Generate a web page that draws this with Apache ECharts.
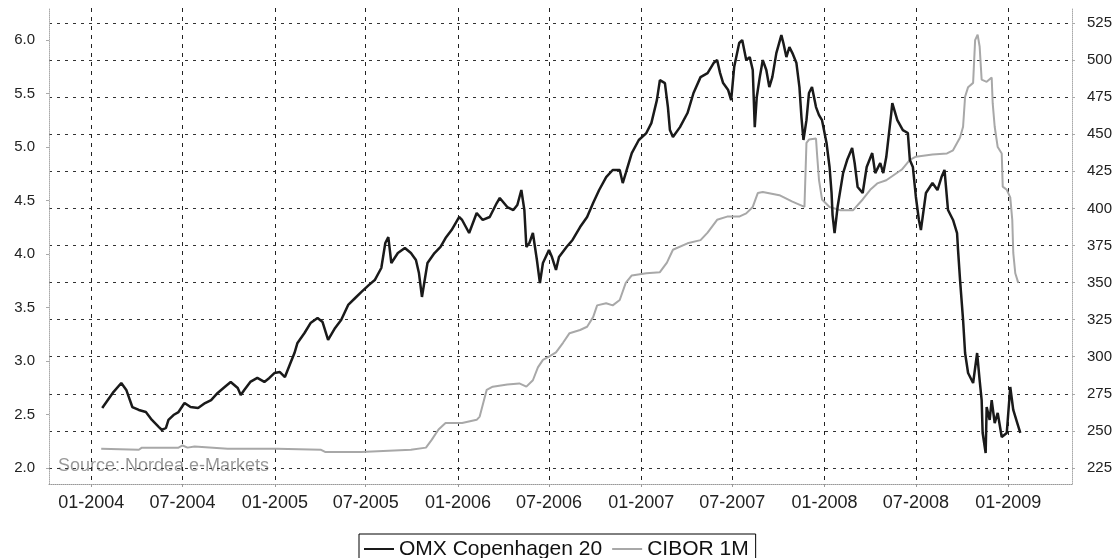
<html>
<head>
<meta http-equiv="Content-Type" content="text/html; charset=utf-8" />
<script src="https://cdn.jsdelivr.net/npm/echarts@6/dist/echarts.min.js"></script>
<style>
  html, body { margin: 0; padding: 0; background: #fff; }
</style>
</head>
<body>
<div id="chart" style="width:1120px;height:558px;"></div>
<script type="text/javascript">
// x axis tick labels (month-year)
var tickLabels = ['01-2004', '07-2004', '01-2005', '07-2005', '01-2006', '07-2006',
  '01-2007', '07-2007', '01-2008', '07-2008', '01-2009'];

// OMX Copenhagen 20 (right axis)
var omxDates = ['2004-01-23','2004-02-13','2004-03-01','2004-03-11','2004-03-23','2004-04-05','2004-04-19','2004-05-01','2004-05-15','2004-05-21',
  '2004-05-29','2004-06-03','2004-06-13','2004-06-23','2004-07-05','2004-07-17','2004-08-01','2004-08-15','2004-08-27','2004-09-09',
  '2004-09-23','2004-10-05','2004-10-19','2004-10-25','2004-11-01','2004-11-13','2004-11-27','2004-12-11','2004-12-21','2004-12-31',
  '2005-01-11','2005-01-21','2005-02-01','2005-02-09','2005-02-15','2005-03-01','2005-03-13','2005-03-27','2005-04-06','2005-04-17',
  '2005-05-01','2005-05-13','2005-05-27','2005-06-10','2005-06-22','2005-07-07','2005-07-19','2005-08-01','2005-08-09','2005-08-15',
  '2005-08-21','2005-09-03','2005-09-17','2005-09-29','2005-10-09','2005-10-15','2005-10-21','2005-11-01','2005-11-15','2005-11-27',
  '2005-12-07','2005-12-19','2006-01-03','2006-01-09','2006-01-23','2006-02-07','2006-02-19','2006-03-05','2006-03-19','2006-03-25',
  '2006-04-09','2006-04-21','2006-04-29','2006-05-07','2006-05-13','2006-05-17','2006-05-23','2006-05-30','2006-06-07','2006-06-13',
  '2006-06-19','2006-07-01','2006-07-07','2006-07-15','2006-07-21','2006-08-05','2006-08-17','2006-09-01','2006-09-15','2006-09-27',
  '2006-10-09','2006-10-23','2006-11-05','2006-11-19','2006-11-25','2006-12-01','2006-12-13','2006-12-27','2007-01-11','2007-01-21',
  '2007-02-01','2007-02-07','2007-02-17','2007-02-23','2007-02-27','2007-03-05','2007-03-19','2007-04-03','2007-04-15','2007-04-29',
  '2007-05-13','2007-05-25','2007-06-01','2007-06-07','2007-06-13','2007-06-23','2007-06-29','2007-07-05','2007-07-15','2007-07-21',
  '2007-07-29','2007-08-05','2007-08-11','2007-08-15','2007-08-19','2007-08-25','2007-08-31','2007-09-07','2007-09-13','2007-09-19',
  '2007-09-27','2007-10-07','2007-10-11','2007-10-17','2007-10-23','2007-10-29','2007-11-06','2007-11-12','2007-11-16','2007-11-20',
  '2007-11-26','2007-12-01','2007-12-07','2007-12-15','2007-12-21','2007-12-27','2008-01-05','2008-01-11','2008-01-15','2008-01-17',
  '2008-01-21','2008-01-27','2008-02-07','2008-02-15','2008-02-25','2008-03-01','2008-03-07','2008-03-17','2008-03-25','2008-04-05',
  '2008-04-11','2008-04-21','2008-04-27','2008-05-03','2008-05-13','2008-05-15','2008-05-25','2008-06-05','2008-06-15','2008-06-19',
  '2008-06-25','2008-07-01','2008-07-07','2008-07-11','2008-07-21','2008-08-03','2008-08-13','2008-08-21','2008-08-27','2008-09-03',
  '2008-09-13','2008-09-21','2008-09-23','2008-09-27','2008-10-03','2008-10-07','2008-10-13','2008-10-23','2008-10-31','2008-11-05',
  '2008-11-09','2008-11-11','2008-11-17','2008-11-19','2008-11-25','2008-11-29','2008-12-05','2008-12-11','2008-12-19','2008-12-29',
  '2009-01-05','2009-01-11','2009-01-19','2009-01-25'];
var omxValues = [265.4,275.6,282.3,277.6,266.1,264.1,262.7,257.4,252.6,250.6,
  252.0,257.4,260.7,262.7,268.8,266.1,265.4,268.8,270.8,275.6,
  279.6,283.0,278.9,274.2,277.6,283.0,285.7,283.0,285.7,289.0,
  289.7,286.3,295.8,302.5,309.3,316.0,322.7,326.1,323.4,311.3,
  319.4,324.8,334.9,339.6,343.6,348.3,351.7,359.8,376.7,380.7,
  363.2,369.9,373.3,369.9,365.2,356.4,340.3,363.2,369.9,374.0,
  380.0,385.4,394.2,392.2,383.4,396.9,392.2,394.2,403.6,407.0,
  400.9,398.9,402.3,412.4,398.9,374.0,376.7,383.4,365.2,349.7,
  363.2,371.9,367.2,358.5,367.2,374.0,378.7,387.4,394.2,403.6,
  412.4,421.1,425.9,425.9,417.1,423.8,437.3,446.1,450.8,457.5,
  473.0,486.5,484.5,468.3,452.8,448.1,454.8,464.3,477.8,488.5,
  491.2,498.0,500.0,491.2,484.5,479.8,473.0,495.3,511.5,513.5,
  500.0,502.0,493.3,454.8,475.1,488.5,500.0,493.3,481.8,488.5,
  504.7,516.8,511.5,502.0,508.8,504.7,498.0,481.8,461.6,446.1,
  459.5,477.8,481.8,468.3,462.9,459.5,444.1,427.9,410.4,395.5,
  383.4,400.9,423.8,432.6,440.7,430.6,414.4,410.4,427.9,437.3,
  423.8,430.6,423.8,434.6,464.3,471.0,459.5,452.8,450.8,432.6,
  427.9,407.7,392.2,385.4,410.4,417.1,412.4,421.1,425.9,398.9,
  392.2,383.4,371.9,351.7,324.8,302.5,289.0,282.3,302.5,284.3,
  270.8,248.6,235.1,266.1,257.4,270.8,255.3,262.1,245.9,248.6,
  279.6,264.1,255.3,248.6];

// CIBOR 1M (left axis, %)
var ciborDates = ['2004-01-21','2004-04-05','2004-04-11','2004-06-23','2004-07-01','2004-07-11','2004-07-25','2004-09-29','2005-01-05','2005-04-03',
  '2005-04-11','2005-06-22','2005-09-29','2005-10-29','2005-11-09','2005-11-23','2005-12-07','2006-01-09','2006-02-07','2006-02-13',
  '2006-02-27','2006-03-11','2006-04-09','2006-05-03','2006-05-17','2006-05-30','2006-06-09','2006-06-19','2006-07-01','2006-07-15',
  '2006-07-29','2006-08-11','2006-09-01','2006-09-15','2006-09-27','2006-10-05','2006-10-23','2006-11-05','2006-11-19','2006-12-01',
  '2006-12-13','2007-01-11','2007-02-07','2007-02-21','2007-03-05','2007-04-03','2007-04-29','2007-05-13','2007-06-01','2007-06-21',
  '2007-07-15','2007-07-29','2007-08-11','2007-08-21','2007-08-31','2007-10-03','2007-10-29','2007-11-22','2007-11-26','2007-12-01',
  '2007-12-15','2007-12-17','2007-12-21','2007-12-27','2008-01-11','2008-02-01','2008-02-27','2008-03-17','2008-04-01','2008-04-15',
  '2008-05-03','2008-06-03','2008-06-19','2008-07-01','2008-08-03','2008-09-01','2008-09-13','2008-09-27','2008-10-03','2008-10-07',
  '2008-10-13','2008-10-23','2008-10-27','2008-11-01','2008-11-05','2008-11-09','2008-11-19','2008-11-29','2008-12-01','2008-12-05',
  '2008-12-11','2008-12-19','2008-12-21','2008-12-29','2009-01-05','2009-01-09','2009-01-11','2009-01-15','2009-01-21'];
var ciborValues = [2.18,2.17,2.19,2.19,2.21,2.19,2.20,2.18,2.18,2.17,
  2.15,2.15,2.17,2.19,2.26,2.36,2.42,2.42,2.45,2.48,
  2.73,2.76,2.78,2.79,2.76,2.82,2.94,3.01,3.04,3.08,
  3.17,3.26,3.29,3.32,3.41,3.52,3.54,3.52,3.57,3.73,
  3.80,3.82,3.83,3.92,4.04,4.10,4.13,4.20,4.32,4.35,
  4.35,4.38,4.44,4.57,4.58,4.55,4.49,4.44,5.04,5.07,
  5.08,4.94,4.69,4.51,4.44,4.41,4.41,4.51,4.60,4.66,
  4.69,4.79,4.88,4.91,4.93,4.94,4.97,5.09,5.19,5.47,
  5.56,5.60,6.00,6.05,5.94,5.63,5.61,5.65,5.41,5.19,
  5.00,4.94,4.63,4.60,4.53,4.32,4.01,3.82,3.73];

var leftTicks = [2, 2.5, 3, 3.5, 4, 4.5, 5, 5.5, 6];
var rightTicks = [225, 250, 275, 300, 325, 350, 375, 400, 425, 450, 475, 500, 525];

function toTime(s) {
  var p = s.split('-');
  return Date.UTC(+p[0], +p[1] - 1, +p[2]);
}
function zip(d, v) {
  return d.map(function (x, i) { return [toTime(x), v[i]]; });
}
// '07-2004' -> first day of that month
var tickValues = tickLabels.map(function (l) {
  var p = l.split('-');
  return Date.UTC(+p[1], +p[0] - 1, 1);
});

var chart = echarts.init(document.getElementById('chart'));
var font = 'Liberation Sans, Arial, sans-serif';

chart.setOption({
  animation: false,
  backgroundColor: '#fff',
  grid: { left: 49, right: 48, top: 8, bottom: 74 },
  legend: {
    left: 359, top: 534,
    padding: [4, 7, 8, 5],
    borderColor: '#000', borderWidth: 1,
    icon: 'rect',
    itemWidth: 30, itemHeight: 2, itemGap: 10,
    textStyle: { fontFamily: font, fontSize: 21, color: '#111', lineHeight: 22 },
    data: ['OMX Copenhagen 20', 'CIBOR 1M']
  },
  graphic: [{
    type: 'text', left: 58, top: 457,
    style: { text: 'Source: Nordea e-Markets', fontFamily: font, fontSize: 18, fill: '#999' }
  }],
  xAxis: {
    type: 'value',
    min: toTime('2003-10-09'), max: toTime('2009-05-08'),
    axisLine: { lineStyle: { color: '#999', type: 'dotted' } },
    axisTick: { customValues: tickValues, length: 3, lineStyle: { color: '#999' } },
    axisLabel: {
      customValues: tickValues, margin: 10,
      fontFamily: font, fontSize: 18, color: '#222',
      formatter: function (v) {
        var i = tickValues.indexOf(v);
        return i >= 0 ? tickLabels[i] : '';
      }
    },
    splitLine: { show: true, lineStyle: { color: '#222', type: [4, 5], width: 1 } }
  },
  yAxis: [{
    type: 'value', position: 'left',
    min: 1.85, max: 6.3,
    axisLine: { show: true, lineStyle: { color: '#aaa', type: 'dotted' } },
    axisTick: { show: true, length: 3, lineStyle: { color: '#aaa' }, customValues: leftTicks },
    axisLabel: {
      customValues: leftTicks, margin: 14,
      fontFamily: font, fontSize: 15, color: '#222',
      formatter: function (v) { return v.toFixed(1); }
    },
    splitLine: { show: false }
  }, {
    type: 'value', position: 'right',
    min: 214.2, max: 535.1,
    axisLine: { show: true, lineStyle: { color: '#aaa', type: 'dotted' } },
    axisTick: { show: true, length: 3, lineStyle: { color: '#aaa' }, customValues: rightTicks },
    axisLabel: {
      customValues: rightTicks, margin: 15,
      fontFamily: font, fontSize: 15, color: '#222'
    },
    splitLine: { show: true, lineStyle: { color: '#333', type: [3, 5], width: 1 } }
  }],
  series: [{
    name: 'OMX Copenhagen 20',
    type: 'line', yAxisIndex: 1,
    symbol: 'none',
    lineStyle: { color: '#1a1a1a', width: 2.5 },
    itemStyle: { color: '#1a1a1a' },
    data: zip(omxDates, omxValues),
    z: 3
  }, {
    name: 'CIBOR 1M',
    type: 'line', yAxisIndex: 0,
    symbol: 'none',
    lineStyle: { color: '#a8a8a8', width: 2 },
    itemStyle: { color: '#a8a8a8' },
    data: zip(ciborDates, ciborValues),
    z: 2
  }]
});
</script>
</body>
</html>
